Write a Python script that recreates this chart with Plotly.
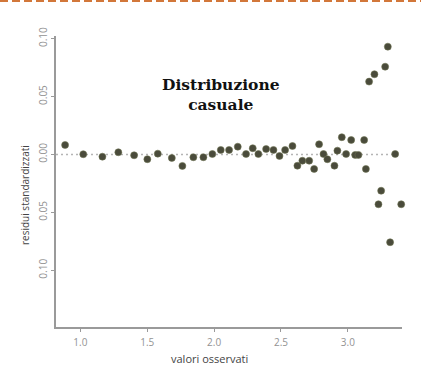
import plotly.graph_objects as go

# Observed values (x) and standardized residuals (y)
valori_osservati = [
    0.886, 1.022, 1.165, 1.284, 1.402, 1.501, 1.579, 1.684, 1.763, 1.845,
    1.920, 1.987, 2.050, 2.112, 2.177, 2.239, 2.289, 2.331, 2.389, 2.444,
    2.489, 2.531, 2.586, 2.623, 2.660, 2.711, 2.748, 2.785, 2.818, 2.847,
    2.900, 2.922, 2.955, 2.987, 3.025, 3.055, 3.079, 3.122, 3.135, 3.159,
    3.199, 3.229, 3.249, 3.279, 3.299, 3.316, 3.354, 3.399,
]
residui_standardizzati = [
    0.0082, 0.0002, -0.0019, 0.0019, -0.0007, -0.0041, 0.0007, -0.0030, -0.0099, -0.0024,
    -0.0024, 0.0004, 0.0039, 0.0039, 0.0067, 0.0004, 0.0054, 0.0004, 0.0047, 0.0039,
    -0.0013, 0.0039, 0.0073, -0.0097, -0.0054, -0.0054, -0.0125, 0.0088, 0.0004, -0.0041,
    -0.0097, 0.0033, 0.0149, 0.0004, 0.0125, -0.0004, -0.0004, 0.0125, -0.0125, 0.0629,
    0.0693, -0.0430, -0.0313, 0.0758, 0.0931, -0.0758, 0.0004, -0.0430,
]

x_tick_vals = [1.0, 1.5, 2.0, 2.5, 3.0]
x_tick_text = ["1.0", "1.5", "2.0", "2.5", "3.0"]
y_tick_vals = [0.10, 0.05, 0.00, -0.05, -0.10, -0.15]
y_tick_text = ["0.10", "0.05", "0.00", "0.05", "0.10", "-0.15"]

W, H = 421, 377
L, R, T, B = 56, 19, 36, 50
PW, PH = W - L - R, H - T - B


def px_x(px):
    return (px - L) / PW


def px_y(py):
    return (H - B - py) / PH


tick_font = dict(family="Open Sans", size=10, color="#939393")
axis_color = "#9a9a9a"

fig = go.Figure()
fig.add_trace(go.Scatter(
    x=valori_osservati,
    y=residui_standardizzati,
    mode="markers",
    cliponaxis=False,
    marker=dict(size=7, color="#4a4b3b",
                line=dict(color="rgba(110,115,80,0.55)", width=1)),
    showlegend=False,
    hoverinfo="skip",
))

# dotted zero reference line
fig.add_shape(type="line", xref="paper", yref="y", x0=0, x1=px_x(398), y0=0, y1=0,
              line=dict(color="#b5b5b5", width=1.5, dash="2px,3px"), layer="below")

# dashed rule along the top edge
fig.add_shape(type="line", xref="paper", yref="paper",
              x0=px_x(0), x1=px_x(W), y0=px_y(1), y1=px_y(1),
              line=dict(color="#d2773a", width=2, dash="8px,4px"))

fig.add_annotation(text="<b>Distribuzione<br>casuale</b>", xref="paper", yref="paper",
                   x=px_x(221), y=px_y(95), xanchor="center", yanchor="middle",
                   showarrow=False, align="center",
                   font=dict(family="DejaVu Serif", size=15.5, color="#111111"))
fig.add_annotation(text="valori osservati", xref="paper", yref="paper",
                   x=px_x(209), y=px_y(358), xanchor="center", yanchor="middle",
                   showarrow=False,
                   font=dict(family="Open Sans", size=11, color="#444444"))
fig.add_annotation(text="residui standardizzati", xref="paper", yref="paper",
                   x=px_x(25), y=px_y(195), xanchor="center", yanchor="middle",
                   showarrow=False, textangle=-90,
                   font=dict(family="Open Sans", size=10, color="#444444"))

fig.update_layout(
    width=W, height=H,
    margin=dict(l=L, r=R, t=T, b=B),
    paper_bgcolor="white", plot_bgcolor="white",
    xaxis=dict(range=[0.818, 3.405], tickvals=x_tick_vals, ticktext=x_tick_text,
               showgrid=False, zeroline=False, showline=True, linecolor=axis_color,
               linewidth=1.5, ticks="outside", ticklen=3, tickcolor=axis_color,
               tickwidth=1, ticklabelstandoff=2, tickfont=tick_font),
    yaxis=dict(range=[-0.1490, 0.1023], tickvals=y_tick_vals, ticktext=y_tick_text,
               showgrid=False, zeroline=False, showline=True, linecolor=axis_color,
               linewidth=1.5, ticks="outside", ticklen=3, tickcolor=axis_color,
               tickangle=-90, tickfont=tick_font),
)

fig.write_html("out.html")
